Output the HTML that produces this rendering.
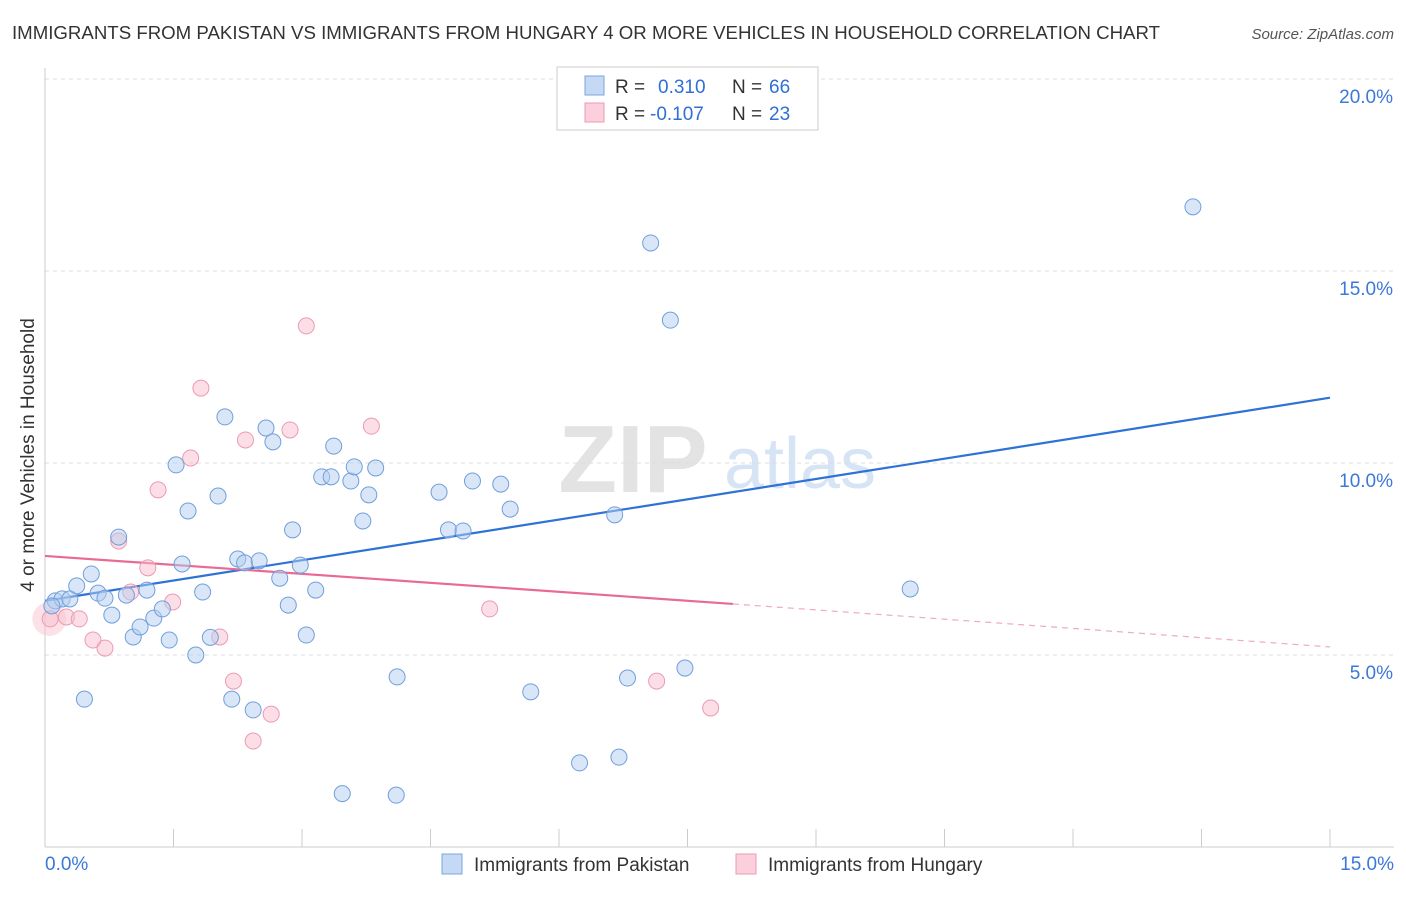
<!DOCTYPE html>
<html><head><meta charset="utf-8">
<style>
body{margin:0;background:#fff;font-family:"Liberation Sans",sans-serif;}
svg text{font-family:"Liberation Sans",sans-serif;}
</style></head>
<body>
<svg id="chart" width="1406" height="892" viewBox="0 0 1406 892">
<text x="12" y="39" font-size="18" fill="#333" textLength="1148" lengthAdjust="spacingAndGlyphs">IMMIGRANTS FROM PAKISTAN VS IMMIGRANTS FROM HUNGARY 4 OR MORE VEHICLES IN HOUSEHOLD CORRELATION CHART</text>
<text x="1394" y="39" font-size="15" fill="#555" font-style="italic" text-anchor="end">Source: ZipAtlas.com</text>
<g>
<text x="633" y="492" font-size="96" fill="#e3e3e3" font-family="Liberation Serif" text-anchor="middle" font-weight="bold">ZIP</text>
<text x="800" y="488" font-size="72" fill="#d6e4f5" text-anchor="middle">atlas</text>
</g>
<g id="grid"></g>
<g id="axes"></g>
<g id="lines"></g>
<g id="points"></g>
<text transform="translate(34,455) rotate(-90)" font-size="19" fill="#333" text-anchor="middle">4 or more Vehicles in Household</text>
<g>
<rect x="557" y="67" width="261" height="63" fill="#fff" stroke="#ccc"/>
<rect x="585" y="76" width="19" height="19" fill="#c5d9f4" stroke="#7aa6e0"/>
<rect x="585" y="103" width="19" height="19" fill="#fbd0dc" stroke="#ec9ab5"/>
<text x="615" y="93" font-size="19" fill="#333">R = </text><text x="658" y="93" font-size="19" fill="#2f6fd6">0.310</text>
<text x="732" y="93" font-size="19" fill="#333">N = </text><text x="769" y="93" font-size="19" fill="#2f6fd6">66</text>
<text x="615" y="120" font-size="19" fill="#333">R = </text><text x="650" y="120" font-size="19" fill="#2f6fd6">-0.107</text>
<text x="732" y="120" font-size="19" fill="#333">N = </text><text x="769" y="120" font-size="19" fill="#2f6fd6">23</text>
</g>
<g>
<rect x="442" y="854" width="20" height="20" fill="#c5d9f4" stroke="#7aa6e0"/>
<text x="474" y="871" font-size="19" fill="#333">Immigrants from Pakistan</text>
<rect x="736" y="854" width="20" height="20" fill="#fbd0dc" stroke="#ec9ab5"/>
<text x="768" y="871" font-size="19" fill="#333">Immigrants from Hungary</text>
</g>
</svg>
<script>
const yTicks=[5,10,15,20];
const yTickLabels=["5.0%","10.0%","15.0%","20.0%"];
const xTickLabels=["0.0%","15.0%"];
const pakX=[0.12,0.2,0.29,0.08,0.37,0.46,0.54,0.62,0.7,0.78,0.86,0.95,1.03,1.11,1.19,1.27,1.37,1.45,1.53,1.6,1.67,1.76,1.84,1.93,2.02,2.1,2.18,2.25,2.33,2.43,2.5,2.58,2.66,2.74,2.84,2.89,2.98,3.05,3.16,3.23,3.34,3.37,3.47,3.57,3.61,3.71,3.78,3.86,4.1,4.11,4.6,4.71,4.88,4.99,5.32,5.43,5.67,6.24,6.65,6.7,6.8,7.07,7.3,7.47,10.1,13.4];
const pakY=[6.41,6.46,6.46,6.28,6.8,3.85,7.11,6.61,6.48,6.04,8.07,6.56,5.47,5.73,6.69,5.96,6.2,5.39,9.95,7.37,8.75,5.0,6.64,5.46,9.14,11.2,3.85,7.5,7.4,3.57,7.45,10.91,10.55,7.0,6.3,8.26,7.34,5.52,6.69,9.64,9.64,10.44,1.39,9.53,9.9,8.49,9.17,9.87,1.35,4.43,9.24,8.26,8.23,9.53,9.45,8.8,4.04,2.19,8.65,2.34,4.4,15.73,13.72,4.66,6.72,16.67];
const hunX=[0.06,0.25,0.4,0.56,0.7,0.86,1.0,1.2,1.32,1.49,1.7,1.82,2.04,2.2,2.34,2.43,2.64,2.86,3.05,3.81,5.19,7.14,7.77];
const hunY=[5.94,5.99,5.94,5.39,5.18,7.97,6.64,7.27,9.3,6.38,10.13,11.95,5.47,4.32,10.6,2.76,3.46,10.86,13.57,10.96,6.2,4.32,3.62];
const pakTrend=[[0,6.41],[15,11.7]];
const hunTrendSolid=[[0,7.58],[8.03,6.33]];
const hunTrendDash=[[8.03,6.33],[15,5.21]];
const X=v=>45+v/15*1285, Y=v=>847-v/5*192;
const NS="http://www.w3.org/2000/svg";
function mk(tag,attrs,parent){const e=document.createElementNS(NS,tag);for(const k in attrs)e.setAttribute(k,attrs[k]);parent.appendChild(e);return e;}
const grid=document.getElementById('grid'),axes=document.getElementById('axes'),lines=document.getElementById('lines'),pts=document.getElementById('points');
yTicks.forEach((t,i)=>{
 const l=mk('line',{x1:45,x2:1394,y1:Y(t),y2:Y(t),stroke:'#ddd','stroke-dasharray':'4,4'},grid);
 
 
 const tx=mk('text',{x:1393,y:Y(t)+24,'font-size':19,fill:'#3b78d8','text-anchor':'end'},axes);
 tx.textContent=yTickLabels[i];
 
 
});
const yAxisLine=mk('line',{x1:45,x2:45,y1:68,y2:847,stroke:'#ccc'},axes);


const xAxisLine=mk('line',{x1:45,x2:1394,y1:847,y2:847,stroke:'#ccc'},axes);


for(let i=0;i<=10;i++){
 const tk=mk('line',{x1:X(i*1.5),x2:X(i*1.5),y1:829,y2:847,stroke:'#ccc'},axes);
 
 
}
[[0,'start',45],[1,'end',1394]].forEach(([i,a,x])=>{
 const t=mk('text',{x:x,y:870,'font-size':19,fill:'#3b78d8','text-anchor':a},axes);
 t.textContent=xTickLabels[i];
 
 
});
function seg(p,color,dash,name){
 const a={x1:X(p[0][0]),y1:Y(p[0][1]),x2:X(p[1][0]),y2:Y(p[1][1]),stroke:color,'stroke-width':dash?1.2:2.2};
 if(dash)a['stroke-dasharray']='6,5';
 const l=mk('line',a,lines);
 
 
}
const big=mk('circle',{cx:X(0.05),cy:Y(5.94),r:17,fill:'rgba(248,190,205,0.45)',stroke:'none'},pts);


hunX.forEach((x,i)=>{
 const c=mk('circle',{cx:X(x),cy:Y(hunY[i]),r:8,fill:'rgba(248,190,205,0.5)',stroke:'#ec9ab5','stroke-width':1},pts);
 
 
});
pakX.forEach((x,i)=>{
 const c=mk('circle',{cx:X(x),cy:Y(pakY[i]),r:8,fill:'rgba(180,205,240,0.5)',stroke:'#6f9fdc','stroke-width':1},pts);
 
 
});
seg(pakTrend,'#2f72d6',false,'pakistan-trend-line');
seg(hunTrendSolid,'#e86a95',false,'hungary-trend-line');
seg(hunTrendDash,'#eeaabf',true,'hungary-trend-extension');
</script>
</body></html>
